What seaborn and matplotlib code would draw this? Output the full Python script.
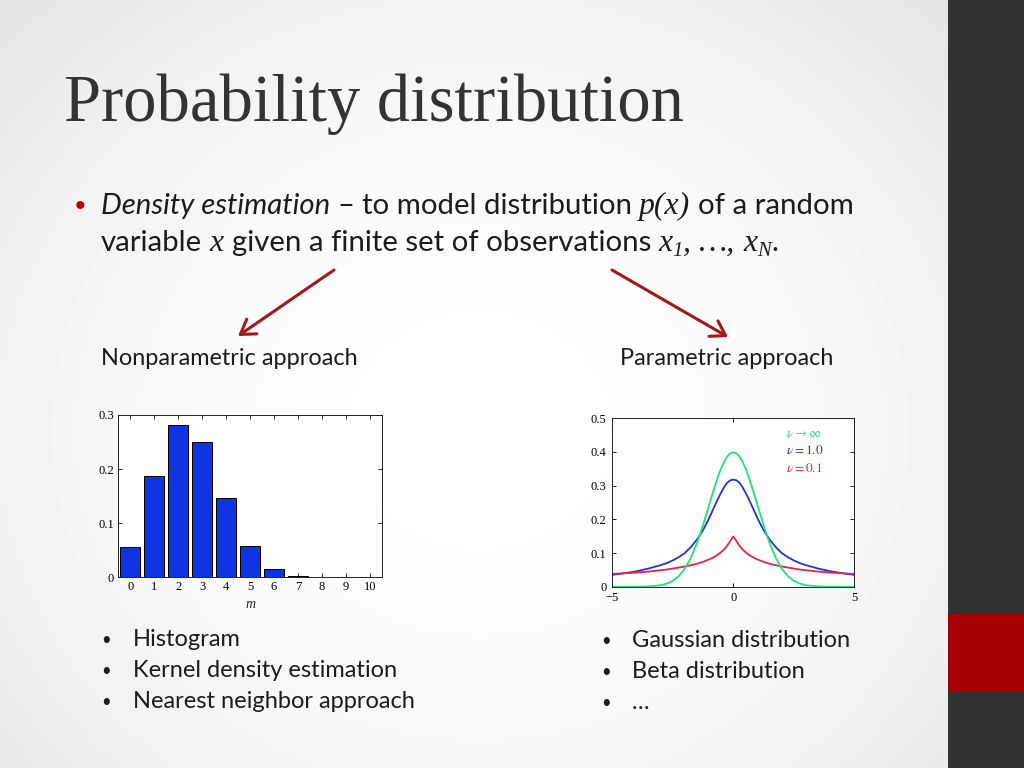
import numpy as np
import matplotlib
matplotlib.use("Agg")
import matplotlib.pyplot as plt
from matplotlib.patches import Rectangle
import seaborn as sns

W, H = 1024, 768

# left chart: histogram over m
m_values = [0, 1, 2, 3, 4, 5, 6, 7, 8, 9, 10]
m_probs = [0.056, 0.188, 0.282, 0.250, 0.146, 0.058, 0.016, 0.003, 0.0004, 0.0, 0.0]
hist_yticks = [0, 0.1, 0.2, 0.3]
hist_ylabels = ["0", "0.1", "0.2", "0.3"]

t_x = [-5, -4.5, -4, -3.5, -3, -2.75, -2.5, -2.25, -2, -1.75, -1.5, -1.25, -1, -0.875, -0.75,
       -0.625, -0.5, -0.375, -0.25, -0.125, 0,
       0.125, 0.25, 0.375, 0.5, 0.625, 0.75, 0.875, 1, 1.25, 1.5, 1.75, 2, 2.25, 2.5, 2.75, 3,
       3.5, 4, 4.5, 5]
nu_inf = [0.0000, 0.0000, 0.0001, 0.0009, 0.0044, 0.0091, 0.0175, 0.0317, 0.0540, 0.0863, 0.1295,
          0.1826, 0.2420, 0.2717, 0.3011, 0.3282, 0.3521, 0.3719, 0.3867, 0.3958, 0.3989,
          0.3958, 0.3867, 0.3719, 0.3521, 0.3282, 0.3011, 0.2717, 0.2420, 0.1826, 0.1295, 0.0863,
          0.0540, 0.0317, 0.0175, 0.0091, 0.0044, 0.0009, 0.0001, 0.0000, 0.0000]
nu_1 = [0.035, 0.040, 0.046, 0.054, 0.064, 0.070, 0.078, 0.088, 0.100, 0.118, 0.140, 0.168, 0.203,
        0.223, 0.243, 0.262, 0.280, 0.296, 0.309, 0.316, 0.318,
        0.316, 0.309, 0.296, 0.280, 0.262, 0.243, 0.223, 0.203, 0.168, 0.140, 0.118, 0.100, 0.088,
        0.078, 0.070, 0.064, 0.054, 0.046, 0.040, 0.035]
nu_01 = [0.038, 0.040, 0.042, 0.045, 0.049, 0.051, 0.054, 0.057, 0.060, 0.064, 0.068, 0.074, 0.081,
         0.085, 0.090, 0.096, 0.103, 0.111, 0.122, 0.136, 0.149,
         0.136, 0.122, 0.111, 0.103, 0.096, 0.090, 0.085, 0.081, 0.074, 0.068, 0.064, 0.060, 0.057,
         0.054, 0.051, 0.049, 0.045, 0.042, 0.040, 0.038]
t_xticks = [-5, 0, 5]
t_xlabels = ["\u22125", "0", "5"]
t_yticks = [0, 0.1, 0.2, 0.3, 0.4, 0.5]
t_ylabels = ["0", "0.1", "0.2", "0.3", "0.4", "0.5"]
curve_labels = [r"$\nu \rightarrow \infty$", r"$\nu = 1.0$", r"$\nu = 0.1$"]

left_bullets = ["Histogram", "Kernel density estimation", "Nearest neighbor approach"]
right_bullets = ["Gaussian distribution", "Beta distribution", "\u2026"]

GREEN, BLUE, RED = "#22e27a", "#2136cf", "#e8243f"
BAR = "#0f35e3"
ARROW = "#a31818"
INK = "#1c1c1c"
SANS = "Lato"
SERIF = "Liberation Serif"

sns.set_style("ticks")
plt.rcParams["font.family"] = SERIF
plt.rcParams["mathtext.fontset"] = "stix"

fig = plt.figure(figsize=(W / 100, H / 100), dpi=100)
renderer = fig.canvas.get_renderer()

# slide background, in pixel coords (origin top-left)
bg = fig.add_axes([0, 0, 1, 1], zorder=-10)
yy, xx = np.mgrid[0:H, 0:W]
r = np.hypot((xx - 480) / 620, (yy - 430) / 560)
shade = 1 - 0.09 * np.clip(r, 0, 1.3) ** 2
bg.imshow(shade, cmap="gray", vmin=0, vmax=1, extent=(0, W, H, 0), aspect="auto")
bg.set_xlim(0, W)
bg.set_ylim(H, 0)
bg.axis("off")
bg.add_patch(Rectangle((948, 0), W - 948, H, color="#323232", lw=0))
bg.add_patch(Rectangle((948, 614), W - 948, 77, color="#a80000", lw=0))


def width(t):
    return t.get_window_extent(renderer).width


def fit(t, target):
    t.set_fontsize(t.get_fontsize() * target / width(t))


def space(family, style, size):
    a = bg.text(0, 0, "a a", family=family, style=style, fontsize=size)
    b = bg.text(0, 0, "aa", family=family, style=style, fontsize=size)
    w = width(a) - width(b)
    a.remove()
    b.remove()
    return w


def compose(x, y, parts, size):
    texts = []
    for s, family, style, scale, dy, gap in parts:
        fs = size * scale
        t = bg.text(x, y + dy, s, family=family, style=style, fontsize=fs, color=INK, va="baseline")
        x = t.get_window_extent(renderer).x1
        if gap:
            x += space(family, style, fs)
        texts.append(t)
    return x, texts


# title
title = bg.text(64, 121, "Probability distribution", family=SERIF, fontsize=40,
                color="#333333", va="baseline")
fit(title, 619)

# main bullet
line1 = [("Density estimation", SANS, "italic", 1, 0, True),
         ("\u2013", SANS, "normal", 1, 0, True),
         ("to model distribution", SANS, "normal", 1, 0, True),
         ("p(x)", SERIF, "italic", 1.08, 0, True),
         ("of a random", SANS, "normal", 1, 0, False)]
line2 = [("variable", SANS, "normal", 1, 0, True),
         ("x", SERIF, "italic", 1.08, 0, True),
         ("given a finite set of observations", SANS, "normal", 1, 0, True),
         ("x", SERIF, "italic", 1.08, 0, False),
         ("1", SERIF, "italic", 0.7, 5, False),
         (",", SERIF, "italic", 1.08, 0, True),
         ("\u2026,", SERIF, "italic", 1.08, 0, True),
         ("x", SERIF, "italic", 1.08, 0, False),
         ("N", SERIF, "italic", 0.7, 5, False),
         (".", SANS, "normal", 1, 0, False)]
end, tmp = compose(101, 214, line1, 18)
size = 18 * (853 - 101) / (end - 101)
for t in tmp:
    t.remove()
compose(101, 214, line1, size)
compose(101, 251, line2, size)
bg.text(74, 212, "\u2022", family=SANS, fontsize=size * 0.75, color="#c00000", va="baseline")

# arrows
for start, tip in [((334, 270), (238, 336)), ((612, 270), (728, 337))]:
    bg.annotate("", xy=tip, xytext=start,
                arrowprops=dict(arrowstyle="->,head_length=0.5,head_width=0.32", color=ARROW,
                                lw=2.2, shrinkA=0, shrinkB=0, mutation_scale=20))

t = bg.text(101, 365, "Nonparametric approach", family=SANS, fontsize=14, color=INK, va="baseline")
fit(t, 259)
t = bg.text(620, 365, "Parametric approach", family=SANS, fontsize=t.get_fontsize(),
            color=INK, va="baseline")

# lower bullets
probe = bg.text(133, 708, left_bullets[2], family=SANS, fontsize=15, color=INK, va="baseline")
fit(probe, 283)
bsize = probe.get_fontsize()
probe.remove()
for i, s in enumerate(left_bullets):
    y = 646 + 31 * i
    bg.text(101, y - 1, "\u2022", family=SANS, fontsize=bsize * 0.7, color=INK, va="baseline")
    bg.text(133, y, s, family=SANS, fontsize=bsize, color=INK, va="baseline")
for i, s in enumerate(right_bullets):
    y = 647 + 31 * i
    bg.text(601, y - 1, "\u2022", family=SANS, fontsize=bsize * 0.7, color=INK, va="baseline")
    bg.text(632, y, s, family=SANS, fontsize=bsize, color=INK, va="baseline")


def matlab_axes(ax):
    ax.set_facecolor("white")
    ax.tick_params(direction="in", top=True, right=True, length=3, width=0.6,
                   labelsize=9, pad=3, colors="black")
    for sp in ax.spines.values():
        sp.set_visible(True)
        sp.set_linewidth(0.7)
        sp.set_color("#222222")


# histogram
ax1 = fig.add_axes([118.3 / W, 1 - 577.3 / H, 263.4 / W, 162.3 / H])
sns.barplot(x=m_values, y=m_probs, ax=ax1, color=BAR, edgecolor="black", linewidth=0.7,
            width=0.82, saturation=1)
ax1.set_xlim(-0.5, 10.5)
ax1.set_ylim(0, 0.3)
ax1.set_yticks(hist_yticks)
ax1.set_yticklabels(hist_ylabels)
ax1.set_xlabel("m", style="italic", fontsize=10, labelpad=3)
ax1.set_ylabel("")
matlab_axes(ax1)

# t distributions
ax2 = fig.add_axes([612.3 / W, 1 - 586.7 / H, 242 / W, 168.4 / H])
for vals, col in [(nu_1, BLUE), (nu_01, RED), (nu_inf, GREEN)]:
    sns.lineplot(x=t_x, y=vals, ax=ax2, color=col, linewidth=1.3)
ax2.set_xlim(-5, 5)
ax2.set_ylim(0, 0.5)
ax2.set_xticks(t_xticks)
ax2.set_xticklabels(t_xlabels)
ax2.set_yticks(t_yticks)
ax2.set_yticklabels(t_ylabels)
matlab_axes(ax2)
ax2.tick_params(axis="x", pad=4)
ax2.tick_params(axis="y", pad=4)
for lab, col, yf in zip(curve_labels, [GREEN, BLUE, RED], [0.907, 0.806, 0.699]):
    ax2.text(0.718, yf, lab, transform=ax2.transAxes, color=col, fontsize=9.5, va="center")

fig.savefig("out.png", dpi=100)
